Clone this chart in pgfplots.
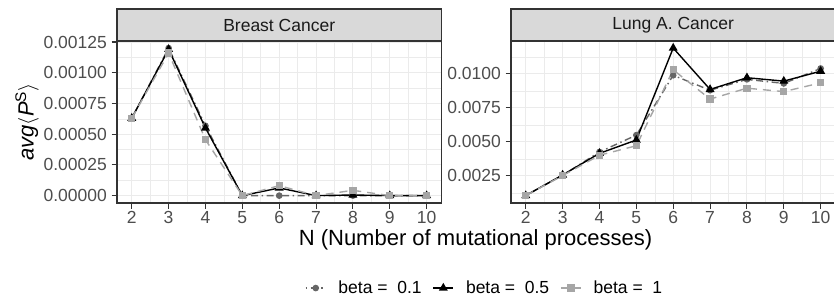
\documentclass[border=0pt]{standalone}
\usepackage{pgfplots}
\pgfplotsset{compat=1.18}
\usepackage{fontspec}
\setmainfont{Liberation Sans}
\definecolor{g10}{HTML}{1A1A1A}
\definecolor{g20}{HTML}{333333}
\definecolor{g30}{HTML}{4D4D4D}
\definecolor{g85}{HTML}{D9D9D9}
\definecolor{g92}{HTML}{EBEBEB}
\definecolor{bA}{HTML}{666666}
\definecolor{bC}{HTML}{A6A6A6}
\newcommand{\ticksize}{\fontsize{17.5bp}{21bp}\selectfont}
\newcommand{\titlesize}{\fontsize{22bp}{26bp}\selectfont}

\pgfplotsset{
  panel/.style={
    scale only axis, width=324.4bp, height=162bp,
    xmin=1.6, xmax=10.4, xtick={2,...,10},
    minor xtick={2.5,3.5,...,9.5},
    grid=both,
    major grid style={g92, line width=1.1bp},
    minor grid style={g92, line width=0.55bp},
    axis line style={g20, line width=1.1bp},
    every tick/.style={g20, line width=1.1bp},
    major tick length=5.5bp, minor tick length=0pt,
    tick align=outside, tick pos=left,
    ticklabel style={font=\ticksize, text=g30},
    /pgf/number format/assume math mode=true,
    xticklabel style={inner sep=0pt, yshift=-3bp},
    yticklabel style={inner sep=0pt, xshift=-4.5bp},
    scaled ticks=false,
    legend image code/.code={\draw[mark repeat=2,mark phase=2,##1] plot coordinates {(0bp,0bp) (10bp,0bp) (20bp,0bp)};},
  },
  sA/.style={bA, line width=1.4bp, dash pattern=on 1.5bp off 3.5bp on 7bp off 3.5bp, mark=*, mark size=2.6bp, mark options={solid, fill=bA, draw=bA}},
  sB/.style={black, line width=1.4bp, solid, mark=triangle*, mark size=3.8bp, mark options={solid, fill=black, draw=black}},
  sC/.style={bC, line width=1.4bp, dash pattern=on 8bp off 6bp, mark=square*, mark size=2.9bp, mark options={solid, fill=bC, draw=bC}},
}

\begin{document}
\begin{tikzpicture}[x=1bp,y=1bp]
\useasboundingbox (0,0) rectangle (834,297);

\begin{axis}[panel, at={(117bp,94bp)}, anchor=south west,
  ymin=-0.00006, ymax=0.001258,
  ytick={0,0.00025,0.0005,0.00075,0.001,0.00125},
  yticklabels={0.00000,0.00025,0.00050,0.00075,0.00100,0.00125},
  minor ytick={0.000125,0.000375,0.000625,0.000875,0.001125},
  legend columns=3,
  legend style={at={(axis description cs:1.1317,-0.525)}, anchor=center, draw=none, fill=none,
    font=\ticksize, text=black, inner sep=0pt,
    /tikz/every odd column/.append style={column sep=11bp},
    /tikz/every even column/.append style={column sep=10bp},
    nodes={inner sep=1bp}},
]
\addplot[sA] coordinates {(2,0.00063) (3,0.00120) (4,0.000568) (5,0) (6,0) (7,0) (8,0) (9,0) (10,0)};
\addlegendentry{beta = \ 0.1}
\addplot[sB] coordinates {(2,0.00063) (3,0.00119) (4,0.00055) (5,0) (6,0.0000625) (7,0) (8,0.000005) (9,0) (10,0)};
\addlegendentry{beta = \ 0.5}
\addplot[sC] coordinates {(2,0.00063) (3,0.00116) (4,0.000455) (5,0) (6,0.000081) (7,0) (8,0.000043) (9,0) (10,0)};
\addlegendentry{beta = \ 1}
\end{axis}

\begin{axis}[panel, at={(511bp,94bp)}, anchor=south west,
  ymin=0.00051, ymax=0.01242,
  ytick={0.0025,0.005,0.0075,0.01},
  yticklabels={0.0025,0.0050,0.0075,0.0100},
  minor ytick={0.00125,0.00375,0.00625,0.00875,0.01125},
]
\addplot[sA] coordinates {(2,0.00106) (3,0.00255) (4,0.00426) (5,0.0055) (6,0.0099) (7,0.0088) (8,0.0096) (9,0.0093) (10,0.0104)};
\addplot[sB] coordinates {(2,0.00106) (3,0.00257) (4,0.00416) (5,0.00514) (6,0.0119) (7,0.00886) (8,0.00972) (9,0.00947) (10,0.0102)};
\addplot[sC] coordinates {(2,0.00106) (3,0.00252) (4,0.00402) (5,0.00472) (6,0.0103) (7,0.00815) (8,0.00895) (9,0.0087) (10,0.00934)};
\end{axis}

\draw[g20, fill=g85, line width=1.1bp] (117,256) rectangle (441.4,288);
\node[font=\ticksize, text=g10] at (279.2,272) {Breast Cancer};
\draw[g20, fill=g85, line width=1.1bp] (511,256) rectangle (835.4,288);
\node[font=\ticksize, text=g10] at (673.2,272) {Lung A. Cancer};

\node[font=\titlesize, anchor=base] at (475.5,51.5) {N (Number of mutational processes)};
\node[font=\titlesize, rotate=90] at (27,175) {\textit{avg}$\langle$\textit{P}\textsuperscript{S}$\rangle$};
\end{tikzpicture}
\end{document}
